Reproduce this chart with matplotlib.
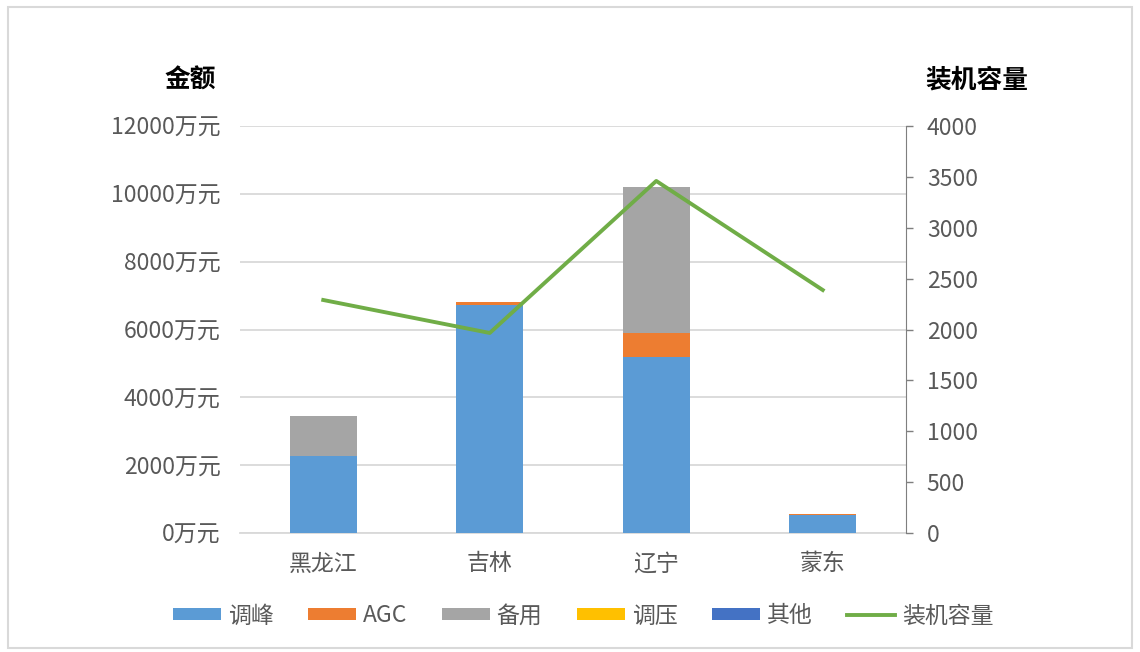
import matplotlib as mpl
import matplotlib.pyplot as plt
import numpy as np
from matplotlib.patches import Rectangle

mpl.rcParams['font.family'] = ['Noto Sans CJK SC', 'DejaVu Sans']

# data
regions = ['黑龙江', '吉林', '辽宁', '蒙东']
tiaofeng = [2270, 6720, 5190, 530]
agc = [0, 90, 710, 30]
beiyong = [1180, 0, 4300, 0]
tiaoya = [0, 0, 0, 0]
qita = [0, 0, 0, 0]
capacity = [2290, 1966, 3460, 2388]
left_ticks = [0, 2000, 4000, 6000, 8000, 10000, 12000]
right_ticks = [0, 500, 1000, 1500, 2000, 2500, 3000, 3500, 4000]

tick_col = '#595959'
grid_col = '#d9d9d9'
fs = 16.5

fig = plt.figure(figsize=(11.4, 6.52), dpi=100)
fig.patches.append(Rectangle((0.007, 0.006), 0.986, 0.983, transform=fig.transFigure,
                             fill=False, edgecolor='#d9d9d9', linewidth=1.5))
ax = fig.add_axes([240/1140, 1-533/652, 666/1140, 407/652])
ax2 = ax.twinx()

x = np.arange(len(regions))
w = 0.4
bottom = np.zeros(len(regions))
series = [(tiaofeng, '调峰', '#5b9bd5'), (agc, 'AGC', '#ed7d31'), (beiyong, '备用', '#a5a5a5'),
          (tiaoya, '调压', '#ffc000'), (qita, '其他', '#4472c4')]
for vals, lbl, col in series:
    ax.bar(x, vals, w, bottom=bottom, color=col, label=lbl, zorder=3)
    bottom += np.array(vals)

ax2.plot(x, capacity, color='#70ad47', linewidth=2.8, label='装机容量', zorder=4)

ax.set_xlim(-0.5, 3.5)
ax.set_ylim(0, 12000)
ax.set_yticks(left_ticks)
ax.set_yticklabels(['%d万元' % v for v in left_ticks])
ax.yaxis.grid(True, color=grid_col, linewidth=1.3, zorder=0)
ax.set_axisbelow(True)
ax.set_xticks(x)
ax.set_xticklabels(regions)
ax.tick_params(axis='y', length=0, pad=14, labelsize=fs, labelcolor=tick_col)
ax.tick_params(axis='x', length=0, pad=14, labelsize=fs, labelcolor=tick_col)
for s in ['top', 'right', 'left']:
    ax.spines[s].set_visible(False)
ax.spines['bottom'].set_color(grid_col)
ax.spines['bottom'].set_linewidth(1.3)

ax2.set_ylim(0, 4000)
ax2.set_yticks(right_ticks)
ax2.tick_params(axis='y', length=5, width=1, color='#7f7f7f', pad=10, labelsize=fs, labelcolor=tick_col)
for s in ['top', 'left', 'bottom']:
    ax2.spines[s].set_visible(False)
ax2.spines['right'].set_color('#7f7f7f')

fig.text(190/1140, 1-80/652, '金额', ha='center', va='center', fontsize=18.5, fontweight='bold')
fig.text(977/1140, 1-80/652, '装机容量', ha='center', va='center', fontsize=18.5, fontweight='bold')

h1, l1 = ax.get_legend_handles_labels()
h2, l2 = ax2.get_legend_handles_labels()
leg = fig.legend(h1 + h2, l1 + l2, loc='center', bbox_to_anchor=(583/1140, 1-616/652), ncol=6,
                 frameon=False, fontsize=fs, handlelength=2.1, handleheight=0.45, handletextpad=0.3,
                 columnspacing=1.5, labelcolor=tick_col)

fig.savefig('out.png', dpi=100)
